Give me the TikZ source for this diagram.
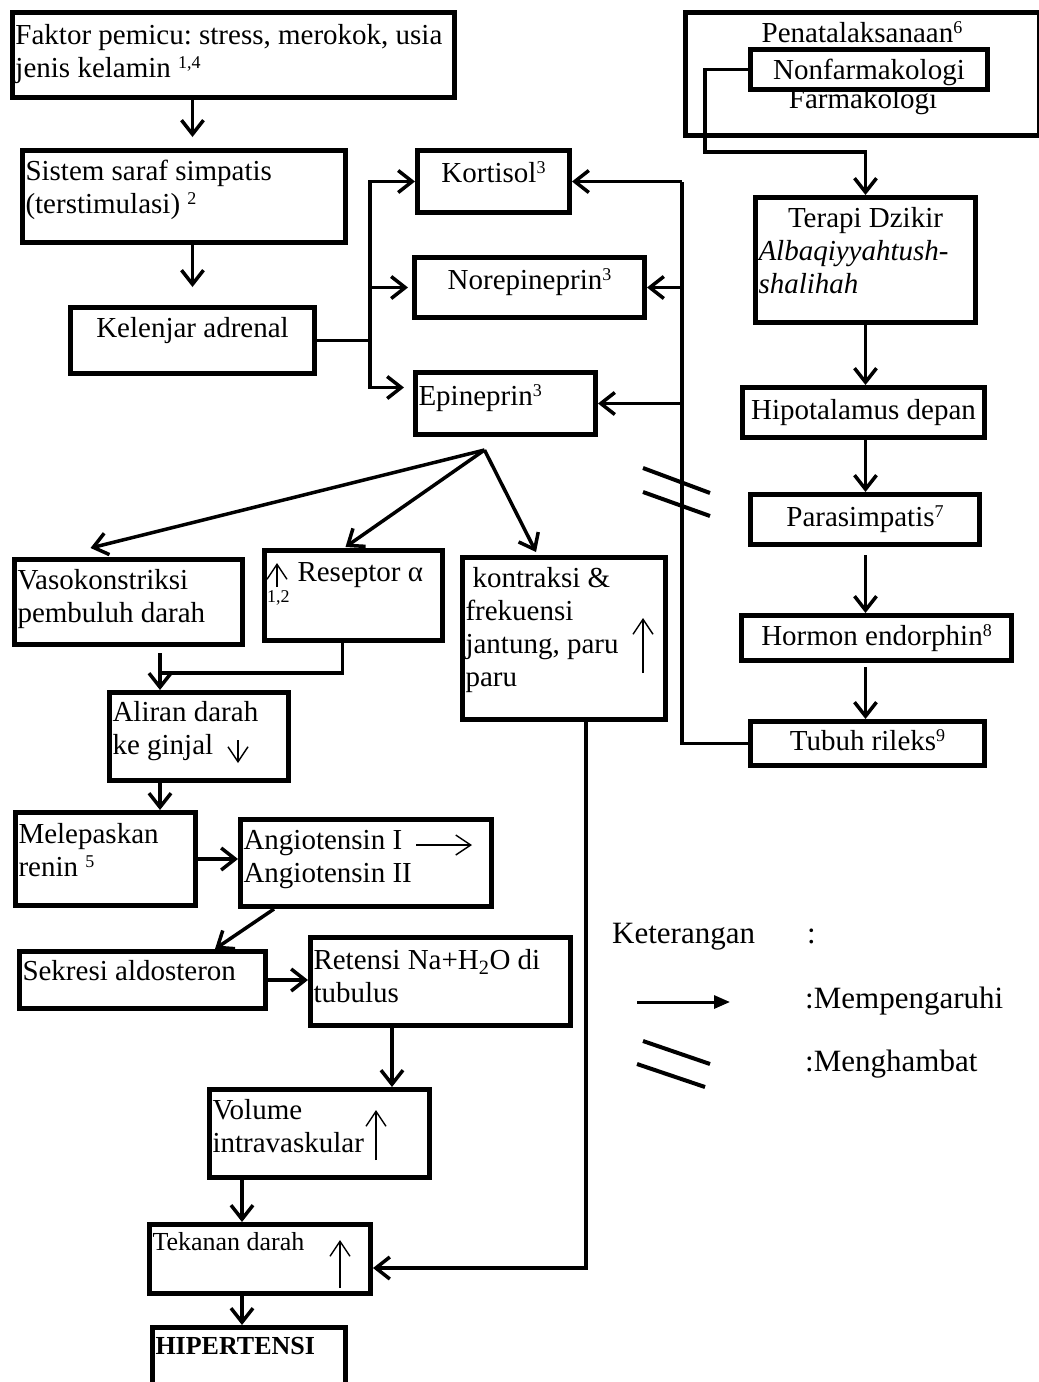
\documentclass[tikz,border=0pt]{standalone}
\usepackage{fontspec}
\setmainfont{Liberation Serif}
\usetikzlibrary{arrows.meta}

\newcommand{\teks}{\fontsize{29}{33}\selectfont}
\newcommand{\kecil}{\fontsize{26}{30}\selectfont}
\newcommand{\ket}{\fontsize{31}{35}\selectfont}
\newcommand{\pangkat}[1]{\raisebox{9pt}{\fontsize{18}{18}\selectfont #1}}

\tikzset{
  kotak/.style={draw, line width=5pt, anchor=north west, inner xsep=3pt, inner ysep=0pt, font=\teks},
  kiri/.style={kotak, align=flush left},
  tengah/.style={kotak, align=center},
  garis/.style={line width=3.5pt},
  panah/.style={garis, -{Straight Barb[length=14pt,width=22pt]}},
  tipis/.style={line width=1.4pt, -{Straight Barb[length=15pt,width=20pt]}},
  hambat/.style={line width=4pt},
  catatan/.style={font=\ket, anchor=base west, inner sep=0pt},
}

\begin{document}
\frenchspacing
\begin{tikzpicture}[x=1pt,y=-1pt]
        \useasboundingbox (0,0) rectangle (1039,1382);

        % Jalur simpatis
        \node[kiri, text width=436pt, minimum height=85pt, text depth=41pt] (faktor) at (10,10) {Faktor pemicu: stress, merokok, usia\\jenis kelamin \pangkat{1,4}};
        \node[kiri, text width=317pt, minimum height=92pt, text depth=52pt] (sistem) at (20,148) {Sistem saraf simpatis\\(terstimulasi) \pangkat{2}};
        \node[tengah, minimum width=244pt, minimum height=66pt, text depth=26pt] (kelenjar) at (68,305) {Kelenjar adrenal};
        \node[tengah, minimum width=152pt, minimum height=62pt, text depth=18pt] (kortisol) at (415,148) {Kortisol\pangkat{3}};
        \node[tengah, minimum width=230pt, minimum height=60pt, text depth=16pt] (norepi) at (412,255) {Norepineprin\pangkat{3}};
        \node[kiri, text width=174pt, minimum height=62pt, text depth=16pt] (epi) at (413,370) {Epineprin\pangkat{3}};

        % Efek epineprin
        \node[kiri, text width=222pt, minimum height=85pt, text depth=45pt] (vaso) at (12,557) {Vasokonstriksi\\pembuluh darah};
        \node[kiri, text width=172pt, minimum height=90pt, text depth=47pt] (reseptor) at (262,548) {\hspace*{30pt}Reseptor α};
        \node[font=\fontsize{18}{18}\selectfont, anchor=base west, inner sep=0pt] (reseptor-ref) at (267,602) {1,2};
        \node[kiri, text width=197pt, minimum height=162pt, text depth=122pt] (kontraksi) at (460,555) {\hspace*{7pt}kontraksi \&\\frekuensi\\jantung, paru\\paru};

        % Sistem renin-angiotensin
        \node[kiri, text width=173pt, minimum height=88pt, text depth=50pt] (aliran) at (107,690) {Aliran darah\\ke ginjal};
        \node[kiri, text width=174pt, minimum height=93pt, text depth=51pt] (renin) at (13,810) {Melepaskan\\renin \pangkat{5}};
        \node[kiri, text width=245pt, minimum height=87pt, text depth=47pt] (angio) at (238,817) {Angiotensin I\\Angiotensin II};
        \node[kiri, text width=240pt, minimum height=57pt, text depth=19pt] (aldo) at (17,949) {Sekresi aldosteron};
        \node[kiri, text width=254pt, minimum height=88pt, text depth=44pt] (retensi) at (308,935) {Retensi Na+H\textsubscript{2}O di\\tubulus};
        \node[kiri, text width=214pt, minimum height=88pt, text depth=48pt] (volume) at (207,1087) {Volume\\intravaskular};
        \node[kiri, font=\kecil, text width=215pt, minimum height=69pt, text depth=35pt] (tekanan) at (147,1222) {Tekanan darah};
        \node[kiri, font=\kecil\bfseries, text width=187pt, minimum height=75pt, text depth=38pt] (hipertensi) at (150,1325) {HIPERTENSI};

        % Penatalaksanaan dan terapi dzikir
        \node[kotak, minimum width=354pt, minimum height=123pt] (tata) at (683,10) {};
        \node[font=\teks, anchor=base, inner sep=0pt] (tata-judul) at (862,42) {Penatalaksanaan\pangkat{6}};
        \node[tengah, minimum width=237pt, minimum height=40pt, text depth=0pt] (nonfarm) at (748,47) {Nonfarmakologi};
        \node[font=\teks, anchor=base, inner sep=0pt] (farmako) at (863,108) {Farmakologi};
        \node[kiri, text width=214pt, minimum height=125pt, text depth=85pt] (dzikir) at (753,195) {{\centering Terapi Dzikir\par}\textit{Albaqiyyahtush-}\\\textit{shalihah}};
        \node[tengah, minimum width=242pt, minimum height=50pt] (hipo) at (740,385) {Hipotalamus depan};
        \node[tengah, minimum width=229pt, minimum height=50pt] (para) at (748,492) {Parasimpatis\pangkat{7}};
        \node[tengah, minimum width=270pt, minimum height=45pt] (endorfin) at (739,613) {Hormon endorphin\pangkat{8}};
        \node[tengah, minimum width=234pt, minimum height=44pt, text depth=6pt] (rileks) at (748,719) {Tubuh rileks\pangkat{9}};

        % Panah jalur simpatis
        \coordinate (busL) at (370,0);
        \coordinate (busR) at (682,0);
        \draw[panah, shorten >=11pt] (faktor.south -| kelenjar) -- (sistem.north -| kelenjar);
        \draw[panah, shorten >=18pt] (sistem.south -| kelenjar) -- (kelenjar.north);
        \draw[garis] (kelenjar.east) -- (kelenjar.east -| busL);
        \draw[panah] (kelenjar.east -| busL) |- (kortisol.west);
        \draw[panah, shorten >=9pt] (kelenjar.east -| busL) |- ([yshift=16pt]epi.west);
        \draw[panah, shorten >=4pt] (norepi.west -| busL) -- (norepi.west);

        % Umpan balik dari tubuh rileks
        \draw[garis] (rileks.west) -- (rileks.west -| busR) -- (kortisol.east -| busR);
        \draw[panah] (kortisol.east -| busR) -- (kortisol.east);
        \draw[panah] (norepi.east -| busR) -- (norepi.east);
        \draw[panah] (epi.east -| busR) -- (epi.east);
        \coordinate (blok) at (682,492);
        \draw[hambat] ([shift={(-39,-24)}]blok) -- ++(67,25);
        \draw[hambat] ([shift={(-39,0)}]blok) -- ++(67,24);

        % Cabang epineprin
        \coordinate (cabang) at ([shift={(-21,13)}]epi.south);
        \draw[panah] (cabang) -- ([shift={(-38,-9)}]vaso.north);
        \draw[panah] (cabang) -- ([shift={(-8,-1)}]reseptor.north);
        \draw[panah] (cabang) -- ([shift={(-28,-3)}]kontraksi.north);

        % Jalur ginjal
        \coordinate (gabung) at (160,673);
        \draw[garis] ([xshift=-11pt]reseptor.south) |- (gabung);
        \draw[panah, shorten <=6pt] (vaso.south -| gabung) -- (aliran.north -| gabung);
        \draw[panah] (aliran.south -| gabung) -- (renin.north -| gabung);
        \draw[panah] (renin.east) -- (renin.east -| angio.west);
        \draw[panah] ([xshift=36pt]angio.south west) -- ([xshift=198pt]aldo.north west);
        \draw[panah] (aldo.east) -- (aldo.east -| retensi.west);
        \coordinate (rv) at ([xshift=84pt]retensi.south west);
        \draw[panah] (rv) -- (rv |- volume.north);
        \coordinate (vt) at ([xshift=35pt]volume.south west);
        \draw[panah] (vt) -- (vt |- tekanan.north);
        \draw[panah] (tekanan.south -| vt) -- (hipertensi.north -| vt);
        \draw[panah] ([xshift=22pt]kontraksi.south) |- ([yshift=-9pt]tekanan.east);

        % Jalur terapi
        \draw[panah] (nonfarm.west) -- ++(-43,0) |- ([yshift=43pt]dzikir.north) -- (dzikir.north);
        \draw[panah] (dzikir.south) -- (dzikir.south |- hipo.north);
        \draw[panah] (hipo.south -| dzikir) -- (para.north -| dzikir);
        \draw[panah, shorten <=8pt] (para.south -| dzikir) -- (endorfin.north -| dzikir);
        \draw[panah, shorten <=4pt] (endorfin.south -| dzikir) -- (rileks.north -| dzikir);

        % Tanda naik / turun di dalam kotak
        \draw[tipis] ([shift={(15,39)}]reseptor.north west) -- ++(0,-24);
        \draw[tipis] ([shift={(131,50)}]aliran.north west) -- ++(0,23);
        \draw[tipis] ([shift={(178,28)}]angio.north west) -- ++(56,0);
        \draw[tipis] ([shift={(183,118)}]kontraksi.north west) -- ++(0,-55);
        \draw[tipis] ([shift={(169,73)}]volume.north west) -- ++(0,-50);
        \draw[tipis] ([shift={(193,66)}]tekanan.north west) -- ++(0,-48);

        % Keterangan
        \node[catatan] (ket) at (612,943) {Keterangan};
        \node[catatan] (ket-titik) at (807,943) {:};
        \coordinate (leg-panah) at (637,1002);
        \draw[line width=3pt, -{Triangle[length=16pt,width=13pt]}] (leg-panah) -- ++(93,0);
        \node[catatan] (leg-pengaruh) at (805,1008) {:Mempengaruhi};
        \coordinate (leg-hambat) at (643,1041);
        \draw[hambat] (leg-hambat) -- ++(67,23);
        \draw[hambat] ([shift={(-6,23)}]leg-hambat) -- ++(68,23);
        \node[catatan] (leg-hambat-teks) at (805,1071) {:Menghambat};
    \end{tikzpicture}
\end{document}
